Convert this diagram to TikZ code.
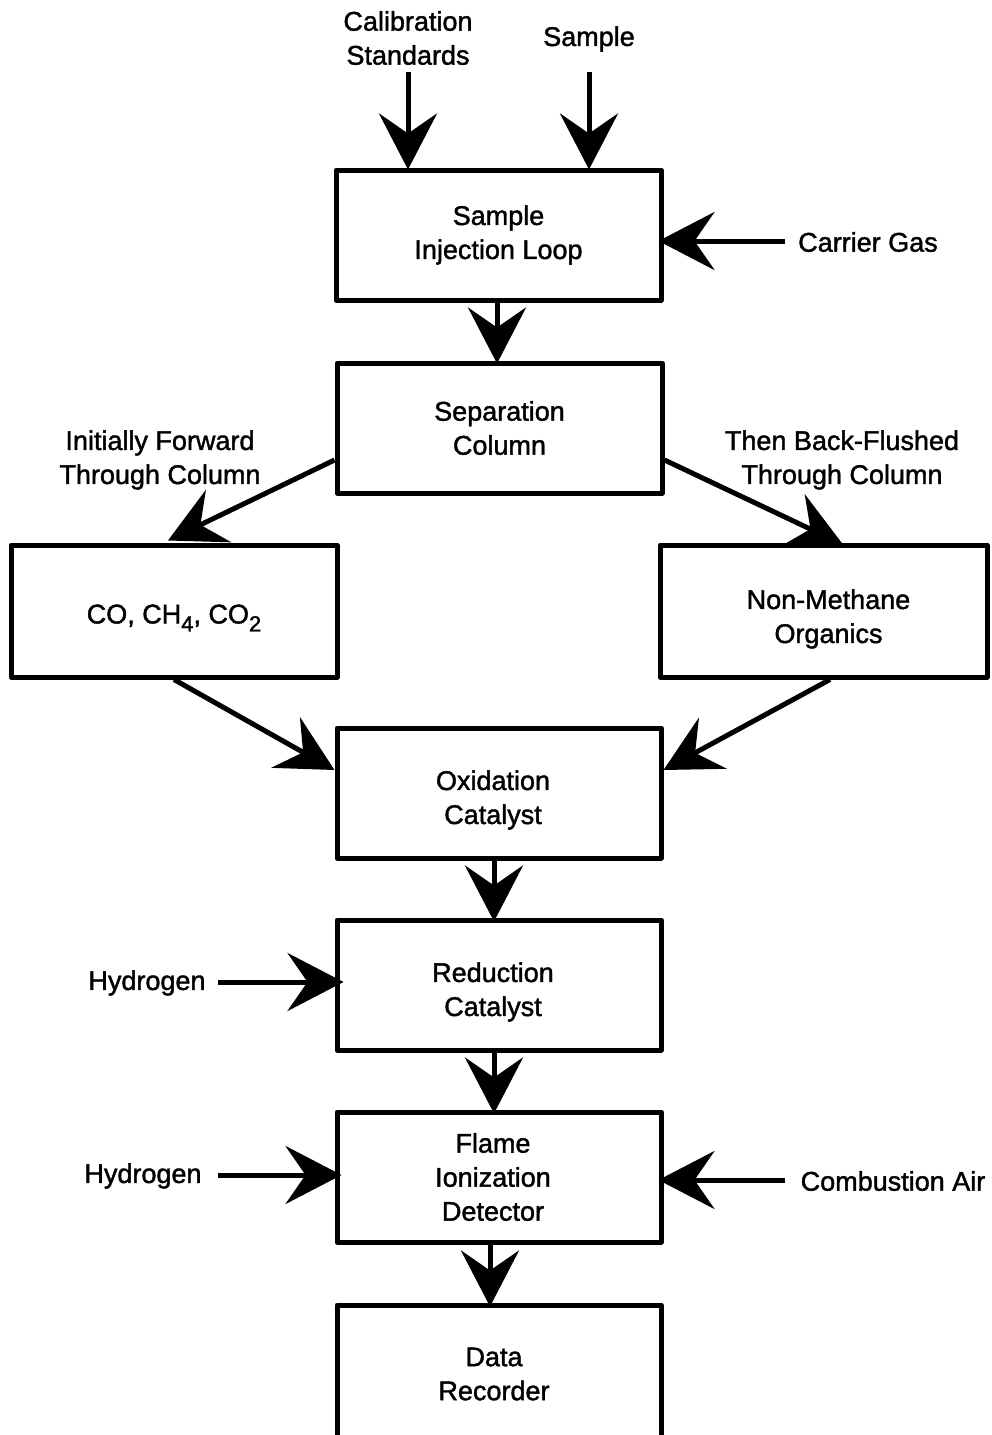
\documentclass[tikz,border=0pt]{standalone}
\usepackage{fontspec}
\setmainfont{Liberation Sans}[FakeBold=1.5]
\usetikzlibrary{arrows.meta}
\newcommand{\lowsub}[1]{\raisebox{-8pt}{\fontsize{22}{22}\selectfont #1}}
\begin{document}
\begin{tikzpicture}[x=1pt,y=-1pt,
  every node/.style={font=\fontsize{27}{34}\selectfont, align=center, inner sep=0pt},
  blk/.style={draw, line width=5pt, line join=round, minimum width=325pt, minimum height=130pt},
  arr/.style={line width=5pt, -{Stealth[length=56pt, width=58pt, inset=20pt]}}]
\useasboundingbox (0,0) rectangle (991,1435);
\clip (0,0) rectangle (991,1435);
% boxes
\node[blk] (inj) at (498.5,235) {Sample\\Injection Loop};
\node[blk] (sep) at (499.5,428) {Separation\\Column};
\node[blk, minimum width=326pt, minimum height=132pt,
  label={[yshift=-7pt]center:CO, CH\lowsub{4}, CO\lowsub{2}}] (co) at (174,611) {};
\node[blk, minimum width=327pt, minimum height=132pt,
  label={[xshift=5pt,yshift=-8pt]center:{Non-Methane\\Organics}}] (nm) at (823.5,611) {};
\node[blk, minimum width=324pt,
  label={[xshift=-6pt,yshift=-7pt]center:{Oxidation\\Catalyst}}] (ox) at (499,793) {};
\node[blk, minimum width=324pt,
  label={[xshift=-6pt,yshift=-7pt]center:{Reduction\\Catalyst}}] (red) at (499,985) {};
\node[blk, minimum width=324pt,
  label={[xshift=-6pt]center:{Flame\\Ionization\\Detector}}] (fid) at (499,1177) {};
\node[blk, minimum width=324pt, minimum height=160pt,
  label={[xshift=-5pt,yshift=11pt]center:{Data\\Recorder}}] (data) at (499,1385) {};
% labels
\node (cal) at (408,38) {Calibration\\Standards};
\node (smp) at (589,39) {Sample};
\node (car) at (868,242) {Carrier Gas};
\node (ini) at (160,460) {Initially Forward\\Through Column};
\node (thn) at (842,460) {Then Back-Flushed\\Through Column};
\node (h1) at (147,983) {Hydrogen};
\node (h2) at (143,1176) {Hydrogen};
\node (cmb) at (893,1181) {Combustion Air};
% free ends
\coordinate (calS) at (408,72);
\coordinate (smpS) at (589,72);
\coordinate (carS) at (785,241);
\coordinate (h1S) at (218,982);
\coordinate (h2S) at (218,1175);
\coordinate (cmbS) at (785,1180);
% arrows
\draw[arr, shorten >=-2pt] (calS) -- (calS |- inj.north);
\draw[arr, shorten >=-2pt] (smpS) -- (smpS |- inj.north);
\draw[arr, shorten >=-5pt] (carS) -- (inj.east |- carS);
\draw[arr, shorten >=-3pt] ([xshift=-1.5pt]inj.south) -- ([xshift=-2.5pt]sep.north);
\draw[arr] ([yshift=-32pt]sep.west) -- ([xshift=-6pt,yshift=2pt]co.north);
\draw[arr] ([yshift=-32pt]sep.east) -- ([xshift=19.5pt,yshift=-2pt]nm.north);
\draw[arr] (co.south) -- ([yshift=23pt]ox.west);
\draw[arr] ([xshift=6.5pt]nm.south) -- ([yshift=23pt]ox.east);
\draw[arr, shorten >=-4pt] ([xshift=-5pt]ox.south) -- ([xshift=-5pt]red.north);
\draw[arr, shorten >=-4pt] ([xshift=-5pt]red.south) -- ([xshift=-5pt]fid.north);
\draw[arr, shorten >=-4pt] ([xshift=-9pt]fid.south) -- ([xshift=-9pt]data.north);
\draw[arr, shorten >=-9pt] (h1S) -- (red.west |- h1S);
\draw[arr, shorten >=-7pt] (h2S) -- (fid.west |- h2S);
\draw[arr, shorten >=-5pt] (cmbS) -- (fid.east |- cmbS);
\end{tikzpicture}
\end{document}
